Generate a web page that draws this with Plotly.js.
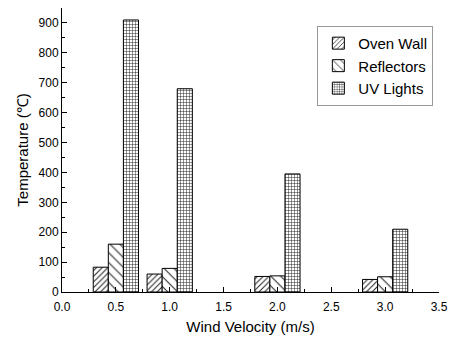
<!DOCTYPE html>
<html><head><meta charset="utf-8">
<script src="https://cdn.plot.ly/plotly-3.0.1.min.js"></script>
<style>html,body{margin:0;padding:0;background:#fff}</style>
</head><body>
<div id="chart" style="width:449px;height:338px"></div>
<script>
const windVelocity = [0.5, 1.0, 2.0, 3.0];
const ovenWall = [83, 60, 52, 42];
const reflectors = [160, 79, 54, 51];
const uvLights = [910, 680, 395, 210];
const seriesNames = ['Oven Wall', 'Reflectors', 'UV Lights'];
const xTicks = [0, 0.5, 1, 1.5, 2, 2.5, 3, 3.5];
const xTickText = ['0.0','0.5','1.0','1.5','2.0','2.5','3.0','3.5'];
const yTicks = [0,100,200,300,400,500,600,700,800,900];

const FONT = 'Arial, "Liberation Sans", sans-serif';

function barTrace(name, y, shape, size, solidity) {
  return {
    type: 'bar', name: name, x: windVelocity, y: y,
    marker: {
      color: 'white',
      line: {color: '#000', width: 1},
      pattern: {shape: shape, size: size, solidity: solidity, fgcolor: '#222', bgcolor: 'white', fillmode: 'replace'}
    }
  };
}

const data = [
  barTrace(seriesNames[0], ovenWall, '/', 4, 0.25),
  barTrace(seriesNames[1], reflectors, '\\', 7, 0.15),
  barTrace(seriesNames[2], uvLights, '+', 3, 0.3)
];

const layout = {
  width: 449, height: 338,
  margin: {l: 62, r: 10, t: 8, b: 46},
  paper_bgcolor: 'white', plot_bgcolor: 'white',
  font: {family: FONT, color: '#000'},
  barmode: 'group', bargap: 0.16, bargroupgap: 0,
  showlegend: true,
  legend: {
    x: 0.985, y: 0.937, xanchor: 'right', yanchor: 'top',
    bordercolor: '#999', borderwidth: 1, bgcolor: 'white',
    font: {size: 15, family: FONT},
    tracegroupgap: 0
  },
  xaxis: {
    range: [0, 3.5001], tickvals: xTicks, ticktext: xTickText,
    ticks: 'inside', ticklen: 5, tickwidth: 1, tickcolor: '#000',
    minor: {ticks: 'inside', dtick: 0.25, tick0: 0, ticklen: 3, tickcolor: '#000'},
    showline: true, linecolor: '#000', linewidth: 1,
    showgrid: false, zeroline: false,
    tickfont: {size: 12, family: FONT},
    ticklabelstandoff: 4,
    ticklabeloverflow: 'allow',
    title: {text: 'Wind Velocity (m/s)', font: {size: 15, family: FONT}, standoff: 8}
  },
  yaxis: {
    range: [0, 950], tickvals: yTicks,
    ticks: 'inside', ticklen: 5, tickwidth: 1, tickcolor: '#000',
    minor: {ticks: 'inside', dtick: 50, tick0: 0, ticklen: 3, tickcolor: '#000'},
    showline: true, linecolor: '#000', linewidth: 1,
    showgrid: false, zeroline: false,
    tickfont: {size: 12, family: FONT},
    title: {text: 'Temperature (℃)', font: {size: 15, family: FONT}, standoff: 6}
  }
};

Plotly.newPlot('chart', data, layout, {displayModeBar: false, staticPlot: true});
</script>
</body></html>
